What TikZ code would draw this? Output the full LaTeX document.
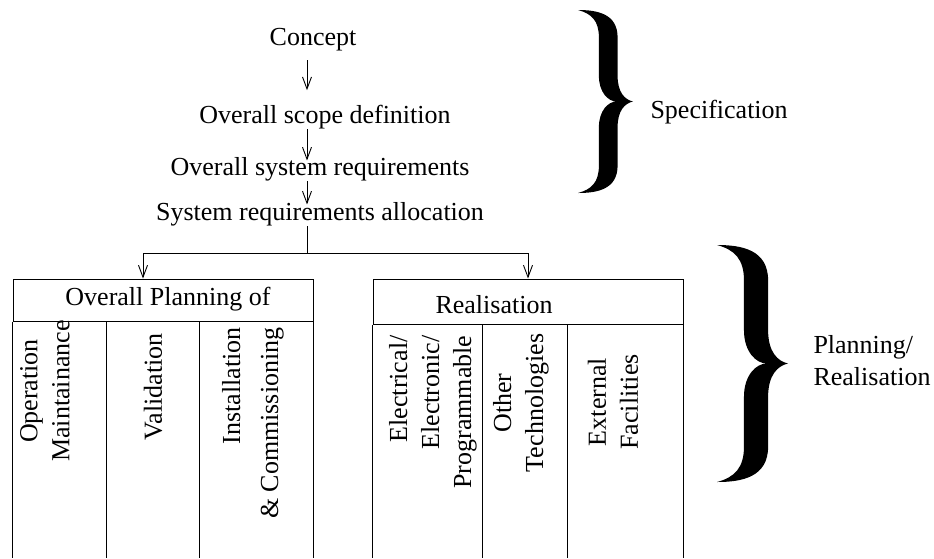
\documentclass[tikz,border=0pt]{standalone}
\usepackage{fontspec}
\setmainfont{Liberation Serif}
\usetikzlibrary{positioning,arrows.meta}

% filled curly brace: x, y of top left, width, height
\newcommand{\bigbrace}[4]{%
  \fill[shift={(#1,#2)}, xscale=#3, yscale=#4]
    (0,0) .. controls (0.35,0) and (0.72,0.02) .. (0.72,0.15)
    -- (0.72,0.36)
    .. controls (0.72,0.45) and (0.85,0.49) .. (1,0.5)
    .. controls (0.85,0.51) and (0.72,0.55) .. (0.72,0.64)
    -- (0.72,0.85)
    .. controls (0.72,0.98) and (0.35,1) .. (0,1)
    .. controls (0.25,0.98) and (0.38,0.94) .. (0.38,0.85)
    -- (0.38,0.64)
    .. controls (0.38,0.55) and (0.55,0.5) .. (0.7,0.5)
    .. controls (0.55,0.5) and (0.38,0.45) .. (0.38,0.36)
    -- (0.38,0.15)
    .. controls (0.38,0.06) and (0.25,0.02) .. (0,0) -- cycle;
}

\begin{document}
\begin{tikzpicture}[
  x=1pt, y=-1pt,
  font=\fontsize{26}{32}\selectfont,
  line width=1pt,
  flow/.style={inner sep=0pt, anchor=base},
  link/.style={-{Straight Barb[length=12pt,width=9pt]}, line width=0.9pt},
  hdbox/.style={draw, inner sep=0pt},
  vtext/.style={rotate=90, inner sep=0pt, align=center},
  vright/.style={rotate=90, inner sep=0pt, align=right, anchor=east},
  side/.style={inner sep=0pt, align=left},
]
\useasboundingbox (0,0) rectangle (934,558);
\coordinate (floor) at (0,558);

% ---- Specification chain ----------------------------------------------------
\node[flow] (concept) at (313,45)  {Concept};
\node[flow] (scope)   at (325,123) {Overall scope definition};
\node[flow] (sysreq)  at (320,175) {Overall system requirements};
\node[flow] (alloc)   at (320,220) {System requirements allocation};

\coordinate (bus) at (307,253);
\draw[link, shorten <=9pt, shorten >=14pt] (concept.south -| bus) -- (scope.north -| bus);
\draw[link, shorten >=-4pt] (scope.south -| bus) -- (sysreq.north -| bus);
\draw[link, shorten >=-3pt] (sysreq.south -| bus) -- (alloc.north -| bus);
\draw (alloc.south -| bus) -- (bus);

% ---- Overall planning box ---------------------------------------------------
\node[hdbox, minimum width=300pt, minimum height=42pt] (planhd) at (163,300) {};
\node[flow] (plantxt) at (168,305) {Overall Planning of};
\draw (planhd.south west) -- (planhd.south west |- floor);
\draw (planhd.south east) -- (planhd.south east |- floor);
\foreach \cx in {106,199}
  \draw (\cx,321) -- (\cx,558);

\node[vtext] (opmaint) at (45,391) {Operation\\Maintainance};
\node[vtext] (valid)   at (153,387) {Validation};
\node[vright] (install) at (253,327) {Installation\\[6pt]\& Commissioning};

% ---- Realisation box --------------------------------------------------------
\node[hdbox, minimum width=310pt, minimum height=45pt] (realhd) at (528,301.5) {};
\node[flow] (realtxt) at (494,313) {Realisation};
\draw (realhd.south west) -- (realhd.south west |- floor);
\draw (realhd.south east) -- (realhd.south east |- floor);
\foreach \cx in {482,567}
  \draw (\cx,324) -- (\cx,558);

\node[vright] (elec)  at (433,335) {Electrical/\\Electronic/\\Programmable};
\node[vtext]  (other) at (521,403) {Other\\Technologies};
\node[vtext]  (extfac) at (613,402) {External\\Facilities};

% ---- Branches to the boxes --------------------------------------------------
\draw[link] (bus) -| ([xshift=-20pt]planhd.north);
\draw[link] (bus) -| (realhd.north);

% ---- Braces -----------------------------------------------------------------
\bigbrace{578}{10}{55}{183}
\node[flow, anchor=base west] (spec) at (650,118) {Specification};
\bigbrace{717}{245}{71}{237}
\node[side, anchor=west] (planreal) at (813,361) {Planning/\\Realisation};

\end{tikzpicture}
\end{document}
